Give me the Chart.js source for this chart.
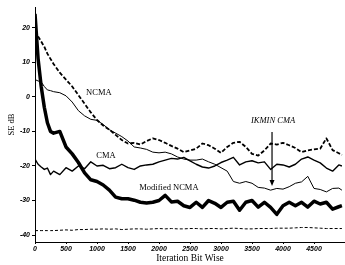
<!DOCTYPE html>
<html>
<head>
<meta charset="utf-8">
<script src="https://cdn.jsdelivr.net/npm/chart.js@4"></script>
<style>
  html, body { margin: 0; padding: 0; background: #fff; }
  #wrap { width: 345px; height: 265px; }
</style>
</head>
<body>
<div id="wrap"><canvas id="seChart" width="345" height="265"></canvas></div>
<script>
// iteration axis (denser at the start where the curves drop fast)
const iters = [0, 50, 100, 150, 200, 250, 300,
  400, 500, 600, 700, 800, 900, 1000,
  1100, 1200, 1300, 1400, 1500, 1600, 1700, 1800, 1900, 2000,
  2100, 2200, 2300, 2400, 2500, 2600, 2700, 2800, 2900, 3000,
  3100, 3200, 3300, 3400, 3500, 3600, 3700, 3800, 3900, 4000,
  4100, 4200, 4300, 4400, 4500, 4600, 4700, 4800, 4900, 4950];

const ncma = [19, 17.5, 16, 14.5, 12.5, 11, 9.5,
  7, 5, 3, 0.5, -2, -4.5, -6.7,
  -8.3, -9.5, -11, -12.5, -13.5, -13.3, -13.8, -12.8, -12, -12.5,
  -13.3, -14.2, -15, -16, -15.5, -15, -13.5, -14, -15, -16.2,
  -14.5, -13.3, -13, -14.5, -16.5, -17, -15.5, -13.5, -13.8, -13.3,
  -14, -14.8, -16, -15.5, -15.2, -15, -12, -15.4, -16.3, -16.8];

const ikminCma = [5, 4.6, 4.3, 3, 2, 1.8, 1.5,
  1.2, 0.3, -1.5, -4, -5.5, -6.5, -6.8,
  -8, -9.5, -10.5, -11.5, -12.8, -14.5, -14.8, -15.2, -16, -16.2,
  -16, -16.5, -17.4, -18, -18.3, -18.3, -18, -18.8, -19.5, -20.5,
  -21.5, -24.5, -25, -24.5, -25, -26.2, -26.4, -27, -26.5, -26.7,
  -26, -25, -24.6, -23, -26.5, -26.8, -27.5, -26.5, -26.4, -27];

const cma = [-18, -19.5, -20.3, -21, -20.6, -22.5, -21.5,
  -22.5, -20.5, -21.5, -20, -20.8, -18.8, -20,
  -19.8, -20.8, -20.5, -19.5, -20.5, -21, -20, -19.7, -19.5, -18.8,
  -18.3, -17.8, -18, -17.5, -18.5, -19.5, -20.3, -20.6, -20, -19,
  -18.3, -17.5, -19.7, -18.8, -18.5, -19.1, -18.8, -21, -19.5, -19.7,
  -20.3, -19.5, -18, -17.4, -18.3, -19.1, -20.6, -21.5, -19.7, -20];

const modNcma = [24, 11, 3, -3, -7.5, -10, -10.5,
  -10, -14.5, -16.5, -19, -22, -24, -24.5,
  -25.5, -27, -29, -29.5, -29.5, -29.9, -30.5, -30.7, -30.5, -30,
  -28.5, -30.4, -30.2, -31.5, -32, -30.5, -32, -30, -30.8, -32,
  -30.5, -30.2, -32.8, -30.5, -30, -31.9, -30.5, -32, -34, -31.5,
  -30.5, -31.5, -30.5, -31.9, -30.2, -31, -30.5, -32.5, -31.8, -31.5];

const bound = [-38.7, -38.7, -38.7, -38.7, -38.7, -38.7, -38.7,
  -38.6, -38.5, -38.6, -38.4, -38.4, -38.3, -38.3,
  -38.2, -38.3, -38.2, -38.4, -38.3, -38.2, -38.2, -38.3, -38.2, -38.1,
  -38.2, -38.1, -38.2, -38.2, -38.1, -38.1, -38.2, -38.1, -38.1, -38.2,
  -38.1, -38, -38.1, -38.2, -38.2, -38.1, -38.1, -38.1, -38, -38,
  -38, -37.9, -37.8, -37.8, -37.9, -38, -38.1, -38.1, -38.1, -38.1];

const xTicks = [0, 500, 1000, 1500, 2000, 2500, 3000, 3500, 4000, 4500];
const yTicks = [-40, -30, -20, -10, 0, 10, 20];

// curve labels: [text, iteration, dB, italic]
const curveLabels = [
  ["NCMA", 1030, 1.2, false],
  ["CMA", 1145, -17.1, false],
  ["Modified NCMA", 2160, -26.4, false],
  ["IKMIN CMA", 3840, -7, true],
];
const arrowAt = { x: 3823, from: -10.2, to: -25.8 };

const pts = (ys) => ys.map((y, i) => ({ x: iters[i], y: y }));

const annotate = {
  id: "annotate",
  afterDatasetsDraw(chart) {
    const ctx = chart.ctx;
    const xs = chart.scales.x, ys = chart.scales.y;
    ctx.save();
    ctx.fillStyle = "#000";
    ctx.textAlign = "center";
    ctx.textBaseline = "middle";
    curveLabels.forEach(([t, x, y, it]) => {
      ctx.font = (it ? "italic " : "") + "8.5px 'Liberation Serif'";
      ctx.fillText(t, xs.getPixelForValue(x), ys.getPixelForValue(y));
    });
    // arrow to the IKMIN CMA curve
    const ax = xs.getPixelForValue(arrowAt.x);
    const y1 = ys.getPixelForValue(arrowAt.from);
    const y2 = ys.getPixelForValue(arrowAt.to);
    ctx.strokeStyle = "#000";
    ctx.lineWidth = 1.2;
    ctx.beginPath();
    ctx.moveTo(ax, y1);
    ctx.lineTo(ax, y2 - 4);
    ctx.stroke();
    ctx.beginPath();
    ctx.moveTo(ax - 2.5, y2 - 6);
    ctx.lineTo(ax + 2.5, y2 - 6);
    ctx.lineTo(ax, y2);
    ctx.closePath();
    ctx.fill();
    ctx.restore();
  },
};

const tickFont = { family: "Liberation Sans", size: 7, style: "italic", weight: "bold" };

const ctx = document.getElementById("seChart").getContext("2d");
new Chart(ctx, {
  type: "line",
  data: {
    datasets: [
      { data: pts(bound), borderColor: "#000", borderWidth: 1, borderDash: [3, 2] },
      { data: pts(cma), borderColor: "#000", borderWidth: 1.4 },
      { data: pts(ikminCma), borderColor: "#000", borderWidth: 1 },
      { data: pts(ncma), borderColor: "#000", borderWidth: 1.8, borderDash: [4, 2] },
      { data: pts(modNcma), borderColor: "#000", borderWidth: 3.5 },
    ],
  },
  options: {
    responsive: false,
    animation: false,
    devicePixelRatio: 1,
    layout: { padding: { top: 7, right: 0, left: 0, bottom: 0 } },
    elements: { point: { radius: 0 }, line: { tension: 0, borderJoinStyle: "round" } },
    plugins: { legend: { display: false }, tooltip: { enabled: false } },
    scales: {
      x: {
        type: "linear",
        min: 0,
        max: 5000,
        afterBuildTicks: (s) => { s.ticks = xTicks.map((v) => ({ value: v })); },
        afterFit: (s) => { s.height = 23; },
        grid: { drawOnChartArea: false, tickLength: 2, color: "#000" },
        border: { color: "#000", width: 1 },
        ticks: {
          color: "#000", padding: 1, maxRotation: 0, autoSkip: false,
          font: tickFont,
          callback: (v) => String(v),
        },
        title: {
          display: true, text: "Iteration Bit Wise", color: "#000",
          padding: { top: 0, bottom: 1 },
          font: { family: "Liberation Serif", size: 9.5 },
        },
      },
      y: {
        min: -42,
        max: 26,
        afterBuildTicks: (s) => { s.ticks = yTicks.map((v) => ({ value: v })); },
        afterFit: (s) => { s.width = 35; },
        grid: { drawOnChartArea: false, tickLength: 3, color: "#000" },
        border: { color: "#000", width: 1 },
        ticks: {
          color: "#000", padding: 2,
          font: tickFont,
          callback: (v) => String(v),
        },
        title: {
          display: true, text: "SE dB", color: "#000",
          padding: { top: 7, bottom: 0 },
          font: { family: "Liberation Serif", size: 8.5 },
        },
      },
    },
  },
  plugins: [annotate],
});
</script>
</body>
</html>
